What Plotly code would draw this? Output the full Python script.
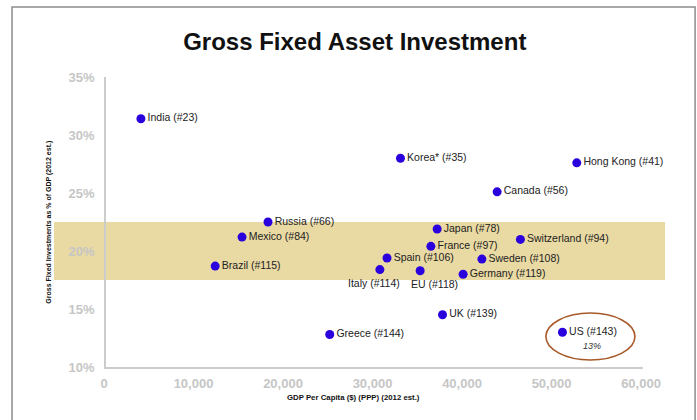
import plotly.graph_objects as go

# GDP per capita (PPP, USD, 2012 est.) vs. gross fixed investment (% of GDP)
countries = ["India (#23)", "Russia (#66)", "Mexico (#84)", "Brazil (#115)", "Greece (#144)",
             "Korea* (#35)", "Hong Kong (#41)", "Canada (#56)", "Japan (#78)",
             "Switzerland (#94)", "France (#97)", "Spain (#106)", "Sweden (#108)",
             "Italy (#114)", "EU (#118)", "Germany (#119)", "UK (#139)", "US (#143)"]
gdp_per_capita = [3900, 18100, 15200, 12200, 25000,
                  32900, 52600, 43700, 37000,
                  46300, 36300, 31400, 42000,
                  30600, 35100, 39900, 37600, 51000]
investment_pct = [31.4, 22.5, 21.2, 18.7, 12.8,
                  28.0, 27.6, 25.1, 21.9,
                  21.0, 20.4, 19.4, 19.3,
                  18.4, 18.3, 18.0, 14.5, 13.0]

# labels hung under their points instead of to the right (pixel nudges)
below_labels = {"Italy (#114)": (-6, -13), "EU (#118)": (14, -13)}

# typical investment band
band_low, band_high = 17.5, 22.5
us_note = "13%"

x_ticks = [0, 10000, 20000, 30000, 40000, 50000, 60000]
y_ticks = [10, 15, 20, 25, 30, 35]

FONT = "Liberation Sans, Arial, sans-serif"

fig = go.Figure()

fig.add_trace(go.Scatter(
    x=gdp_per_capita, y=investment_pct, mode="markers+text",
    text=["" if c in below_labels else c for c in countries], textposition="middle right",
    textfont=dict(family=FONT, size=10.5, color="#222222"),
    marker=dict(size=9, color="#2a00dc"),
    cliponaxis=False, hoverinfo="skip", showlegend=False,
))

shapes = [
    # highlighted band, running past both ends of the plot area
    dict(type="rect", xref="paper", yref="y", x0=-0.097, x1=1.041,
         y0=band_low, y1=band_high, fillcolor="#e9d9a2", line=dict(width=0), layer="below"),
    # ring around the US point
    dict(type="circle", xref="x", yref="y", x0=49150, x1=59100, y0=10.6, y1=14.65,
         line=dict(color="#a85a2a", width=1.6), fillcolor="rgba(0,0,0,0)"),
    # outer frame
    dict(type="rect", xref="paper", yref="paper", x0=-0.175, x1=1.097, y0=-0.3, y1=1.241,
         line=dict(color="#8c8c8c", width=1.5), fillcolor="rgba(0,0,0,0)"),
]

annotations = []
for name, x, y in zip(countries, gdp_per_capita, investment_pct):
    if name in below_labels:
        dx, dy = below_labels[name]
        annotations.append(dict(x=x, y=y, xref="x", yref="y", text=name, showarrow=False,
                                xshift=dx, yshift=dy,
                                font=dict(family=FONT, size=10.5, color="#222222")))

annotations += [
    dict(x=gdp_per_capita[-1], y=investment_pct[-1], xref="x", yref="y",
         text="<i>" + us_note + "</i>", showarrow=False, xshift=30, yshift=-14,
         font=dict(family=FONT, size=9, color="#333333")),
    dict(x=-0.118, y=0.5, xref="paper", yref="paper",
         text="<b>Gross Fixed Investments as % of GDP (2012 est.)</b>",
         showarrow=False, textangle=-90,
         font=dict(family=FONT, size=7, color="#111111")),
    dict(x=0.461, y=-0.126, xref="paper", yref="paper",
         text="<b>GDP Per Capita ($) (PPP) (2012 est.)</b>", showarrow=False,
         font=dict(family=FONT, size=7.8, color="#111111")),
]

fig.update_layout(
    width=697, height=420,
    margin=dict(l=106, r=54, t=77, b=53),
    paper_bgcolor="white", plot_bgcolor="rgba(0,0,0,0)",
    title=dict(text="<b>Gross Fixed Asset Investment</b>", x=0.509, xref="container",
               y=0.9, yref="container", xanchor="center", yanchor="middle",
               font=dict(family=FONT, size=24, color="#111111")),
    shapes=shapes, annotations=annotations,
    xaxis=dict(range=[0, 60000], tickvals=x_ticks, tickformat=",d",
               showgrid=False, zeroline=False, showline=True, linecolor="#cccccc", linewidth=1.5,
               ticks="", ticklabelstandoff=4, ticklabelshift=-2,
               tickfont=dict(family=FONT, size=13, color="#c6c6c6", weight="bold")),
    yaxis=dict(range=[10, 35], tickvals=y_ticks, ticktext=[f"{v}%" for v in y_ticks],
               showgrid=False, zeroline=False, showline=True, linecolor="#cccccc", linewidth=1.5,
               ticks="", ticklabelstandoff=7,
               tickfont=dict(family=FONT, size=13, color="#c6c6c6", weight="bold")),
)

fig.write_html("out.html")
